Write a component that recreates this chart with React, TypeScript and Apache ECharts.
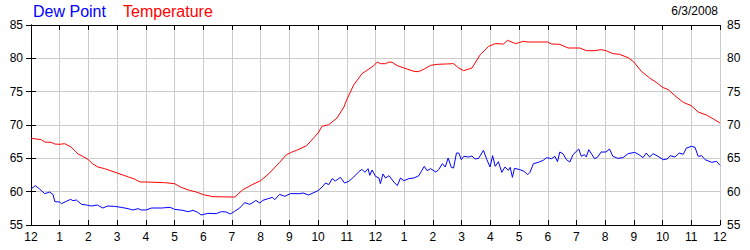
import React, { useEffect, useRef } from "react";
import * as echarts from "echarts";

const hourLabels = ["12", "1", "2", "3", "4", "5", "6", "7", "8", "9", "10", "11", "12", "1", "2", "3", "4", "5", "6", "7", "8", "9", "10", "11", "12"];
const yTicks = [55, 60, 65, 70, 75, 80, 85];
const seriesNames = ["Dew Point", "Temperature"];
const dateLabel = "6/3/2008";

const tempHours = [0, 0.36, 0.48, 0.7, 0.83, 1.0, 1.17, 1.4, 1.64, 1.8, 2.0, 2.14, 2.33, 2.57, 3.0, 3.4, 3.6, 3.8, 4.0, 4.66, 5.0, 5.23, 5.52, 5.76, 6.0, 6.34, 7.0, 7.1, 7.38, 7.73, 8.0, 8.31, 8.66, 8.9, 9.07, 9.3, 9.6, 10.0, 10.14, 10.37, 10.66, 10.9, 11.0, 11.24, 11.53, 11.77, 11.94, 12.06, 12.17, 12.35, 12.47, 12.58, 12.76, 13.0, 13.34, 13.5, 13.7, 13.92, 14.15, 14.45, 14.72, 14.9, 15.07, 15.36, 15.65, 15.94, 16.17, 16.46, 16.6, 16.88, 17.15, 17.32, 18.0, 18.13, 18.42, 18.71, 19.12, 19.34, 19.63, 19.86, 20.03, 20.27, 20.5, 20.8, 21.0, 21.26, 21.55, 21.78, 22.0, 22.2, 22.43, 22.72, 23.0, 23.24, 23.53, 23.77, 24.0];
const tempValues = [68.0, 67.8, 67.45, 67.4, 67.15, 67.1, 67.2, 66.7, 65.65, 65.3, 64.8, 64.2, 63.7, 63.45, 62.8, 62.2, 61.9, 61.45, 61.45, 61.35, 61.2, 60.65, 60.2, 59.95, 59.55, 59.25, 59.2, 59.2, 60.3, 61.1, 61.65, 62.8, 64.4, 65.55, 65.9, 66.3, 66.9, 68.8, 69.8, 70.05, 71.05, 72.7, 73.8, 76.0, 77.7, 78.4, 78.9, 79.45, 79.2, 79.2, 79.45, 79.4, 78.9, 78.55, 78.05, 78.0, 78.4, 78.95, 79.1, 79.15, 79.2, 78.55, 78.15, 78.55, 80.55, 81.8, 82.2, 82.15, 82.7, 82.2, 82.55, 82.45, 82.45, 82.15, 82.1, 81.55, 81.55, 81.15, 81.15, 81.3, 81.15, 80.7, 80.6, 80.1, 79.45, 78.05, 77.05, 76.4, 75.65, 75.3, 74.4, 73.4, 72.9, 71.95, 71.5, 70.9, 70.3];

const dewHours = [0, 0.15, 0.3, 0.48, 0.65, 0.77, 0.83, 1.0, 1.06, 1.23, 1.38, 1.46, 1.58, 1.76, 1.93, 2.1, 2.31, 2.5, 2.67, 2.9, 3.14, 3.38, 3.55, 3.73, 3.84, 4.0, 4.2, 4.55, 4.85, 5.0, 5.29, 5.47, 5.64, 5.81, 5.93, 6.16, 6.45, 6.63, 6.8, 6.94, 7.09, 7.27, 7.44, 7.62, 7.76, 7.83, 7.97, 8.08, 8.26, 8.41, 8.49, 8.66, 8.84, 9.03, 9.36, 9.48, 9.67, 10.0, 10.14, 10.26, 10.37, 10.49, 10.6, 10.78, 10.92, 11.07, 11.24, 11.42, 11.53, 11.63, 11.74, 11.8, 11.88, 12.0, 12.12, 12.17, 12.26, 12.35, 12.47, 12.64, 12.76, 12.87, 12.99, 13.16, 13.34, 13.51, 13.59, 13.7, 13.8, 13.92, 14.1, 14.2, 14.33, 14.43, 14.53, 14.64, 14.72, 14.82, 14.9, 14.99, 15.07, 15.24, 15.36, 15.47, 15.59, 15.76, 15.88, 15.99, 16.08, 16.17, 16.28, 16.4, 16.51, 16.63, 16.69, 16.77, 16.84, 17.03, 17.18, 17.3, 17.38, 17.5, 17.67, 17.84, 17.96, 18.13, 18.25, 18.34, 18.42, 18.53, 18.65, 18.77, 18.88, 19.08, 19.17, 19.28, 19.34, 19.43, 19.63, 19.74, 19.86, 20.03, 20.15, 20.27, 20.44, 20.62, 20.8, 21.03, 21.18, 21.32, 21.43, 21.55, 21.67, 21.84, 22.02, 22.16, 22.27, 22.43, 22.58, 22.72, 22.83, 23.01, 23.13, 23.24, 23.36, 23.48, 23.71, 23.88, 24.0];
const dewValues = [60.4, 60.9, 60.4, 59.7, 59.95, 59.55, 58.5, 58.45, 58.2, 58.55, 58.85, 58.65, 58.75, 58.1, 58.0, 57.85, 58.0, 57.55, 57.85, 57.8, 57.65, 57.45, 57.25, 57.45, 57.25, 57.25, 57.55, 57.55, 57.65, 57.35, 57.2, 57.0, 57.2, 56.9, 56.5, 56.75, 56.7, 57.0, 56.95, 56.65, 57.05, 57.55, 58.35, 58.1, 58.45, 58.7, 58.3, 58.7, 58.95, 59.15, 58.8, 59.6, 59.3, 59.7, 59.7, 59.8, 59.5, 60.15, 60.7, 61.3, 61.05, 61.95, 61.6, 62.15, 61.3, 61.55, 62.2, 63.0, 63.35, 62.9, 63.45, 62.45, 63.25, 62.3, 62.05, 61.2, 62.65, 62.05, 62.4, 61.45, 60.9, 62.05, 61.65, 61.95, 62.05, 62.4, 63.0, 63.8, 63.15, 63.45, 62.95, 63.3, 64.2, 63.7, 65.05, 63.65, 63.55, 65.8, 65.8, 64.8, 65.3, 65.2, 65.35, 64.9, 65.0, 66.2, 64.8, 63.7, 65.4, 63.8, 64.5, 62.9, 63.7, 63.2, 63.65, 62.15, 63.5, 63.3, 63.05, 62.55, 62.9, 64.2, 64.4, 64.7, 65.1, 64.95, 65.3, 64.5, 65.95, 65.7, 64.8, 64.45, 65.55, 66.4, 65.3, 65.55, 65.2, 66.3, 64.95, 65.2, 65.95, 65.95, 66.4, 65.3, 65.0, 65.1, 65.7, 65.9, 65.55, 65.1, 65.8, 65.2, 65.7, 65.3, 64.8, 64.9, 65.4, 65.2, 65.8, 65.6, 66.55, 66.8, 66.65, 65.3, 65.4, 64.8, 64.4, 64.55, 63.95];

const FONT = "'Liberation Sans', Arial, sans-serif";

export default function App() {
  const ref = useRef<HTMLDivElement>(null);
  useEffect(() => {
    if (!ref.current) return;
    const chart = echarts.init(ref.current, undefined, { renderer: "svg" });
    const tick = { show: true, inside: true, length: 5, lineStyle: { color: "#000", width: 1 } };
    const line = { show: true, lineStyle: { color: "#000", width: 1 } };
    const grid = { show: true, lineStyle: { color: "#cccccc", width: 1 } };
    const lbl = { color: "#000", fontSize: 12, fontFamily: FONT };
    chart.setOption({
      animation: false,
      backgroundColor: "#fff",
      grid: { left: 31, right: 30, top: 25, bottom: 25, containLabel: false },
      xAxis: [
        {
          type: "value", min: 0, max: 24, interval: 1, position: "bottom",
          axisLine: line, axisTick: tick, splitLine: grid,
          axisLabel: { ...lbl, margin: 6, formatter: (v: number) => hourLabels[Math.round(v)] ?? "" },
        },
        {
          type: "value", min: 0, max: 24, interval: 1, position: "top",
          axisLine: line, axisTick: tick, splitLine: { show: false }, axisLabel: { show: false },
        },
      ],
      yAxis: [
        {
          type: "value", min: yTicks[0], max: yTicks[yTicks.length - 1], interval: 5, position: "left",
          axisLine: line, axisTick: tick, splitLine: grid,
          axisLabel: { ...lbl, margin: 8 },
        },
        {
          type: "value", min: yTicks[0], max: yTicks[yTicks.length - 1], interval: 5, position: "right",
          axisLine: line, axisTick: tick, splitLine: { show: false },
          axisLabel: { ...lbl, margin: 7 },
        },
      ],
      series: [
        {
          name: seriesNames[0], type: "line", showSymbol: false, symbol: "none",
          lineStyle: { color: "#0000ff", width: 1 }, itemStyle: { color: "#0000ff" },
          data: dewHours.map((h, i) => [h, dewValues[i]]), z: 3,
        },
        {
          name: seriesNames[1], type: "line", showSymbol: false, symbol: "none",
          lineStyle: { color: "#ff0000", width: 1 }, itemStyle: { color: "#ff0000" },
          data: tempHours.map((h, i) => [h, tempValues[i]]), z: 3,
        },
      ],
      graphic: [
        { type: "text", left: 33, top: 3, style: { text: seriesNames[0], fill: "#0000ff", font: `16px ${FONT}` } },
        { type: "text", left: 123, top: 3, style: { text: seriesNames[1], fill: "#ff0000", font: `16px ${FONT}` } },
        { type: "text", right: 32, top: 5, style: { text: dateLabel, fill: "#000", font: `12px ${FONT}` } },
      ],
    });
    return () => chart.dispose();
  }, []);
  return <div ref={ref} style={{ position: "absolute", left: 0, top: 0, width: 750, height: 250 }} />;
}
